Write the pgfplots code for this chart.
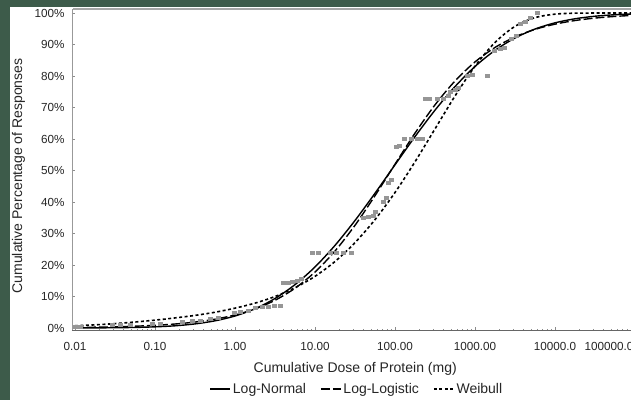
\documentclass[border=0pt]{standalone}
\usepackage{fontspec}
\setmainfont{Liberation Sans}
\usepackage{pgfplots}
\pgfplotsset{compat=1.18}
\definecolor{bggreen}{RGB}{61,91,74}
\definecolor{ptgray}{RGB}{150,150,150}
\begin{document}
\begin{tikzpicture}
\useasboundingbox (0pt,0pt) rectangle (631pt,400pt);
\fill[bggreen] (0pt,0pt) rectangle (631pt,400pt);
\fill[white] (10pt,0pt) rectangle (631pt,393pt);
\clip (0pt,0pt) rectangle (631pt,400pt);
\begin{axis}[
  at={(72pt,70pt)}, anchor=south west, scale only axis,
  width=563pt, height=321pt,
  xmode=log, xmin=0.009173, xmax=100000, ymin=-0.635, ymax=101.27,
  axis x line*=bottom, axis y line*=left,
  x axis line style={black!60, line width=0.8pt},
  y axis line style={black!40, line width=0.6pt},
  xtick={0.01,0.1,1,10,100,1000,10000},
  xticklabels={0.01,0.10,1.00,10.00,100.00,1000.00,10000.0},
  extra x ticks={100000}, extra x tick labels={100000.0},
  extra x tick style={xticklabel style={anchor=north east, xshift=2pt}},
  minor xtick={0.02,0.03,0.04,0.05,0.06,0.07,0.08,0.09,
    0.2,0.3,0.4,0.5,0.6,0.7,0.8,0.9,2,3,4,5,6,7,8,9,
    20,30,40,50,60,70,80,90,200,300,400,500,600,700,800,900,
    2000,3000,4000,5000,6000,7000,8000,9000,
    20000,30000,40000,50000,60000,70000,80000,90000},
  ytick={0,10,20,30,40,50,60,70,80,90,100},
  yticklabels={0\%,10\%,20\%,30\%,40\%,50\%,60\%,70\%,80\%,90\%,100\%},
  minor y tick num=4,
  tick align=inside,
  major tick length=3pt, minor tick length=1.5pt,
  tick style={black!45, line width=0.6pt},
  ticklabel style={font=\fontsize{11.7}{13}\selectfont, text=black!85},
  xticklabel style={yshift=-9pt},
  yticklabel style={xshift=-4pt},
  xlabel={Cumulative Dose of Protein (mg)},
  xlabel style={at={(axis description cs:0.503,-0.1215)}, anchor=center,
    font=\fontsize{14}{16}\selectfont, text=black!85},
  ylabel={Cumulative Percentage of Responses},
  ylabel style={at={(axis description cs:-0.095,0.48)}, anchor=center,
    font=\fontsize{14}{16}\selectfont, text=black!85},
  legend columns=3,
  legend style={at={(axis description cs:0.506,-0.1838)}, anchor=center,
    draw=none, fill=none, inner sep=0pt,
    font=\fontsize{14}{16}\selectfont, text=black!85,
    /tikz/every even column/.append style={column sep=12pt}},
  legend image code/.code={\draw[#1] (0pt,0pt) -- (20pt,0pt);},
]
\addplot[only marks, mark=square*, mark size=1.5pt, color=ptgray,
  mark options={xscale=1.3, draw=none, fill=ptgray}, forget plot] coordinates {
(0.01,0.48) (0.01155,0.48) (0.0290,0.95) (0.0365,0.95) (0.0487,0.95)
(0.0917,1.27) (0.1155,1.27) (0.2175,2.06) (0.290,2.22) (0.365,2.38)
(0.487,2.86) (0.613,3.17) (0.972,4.76) (1.155,5.08) (1.454,5.40)
(1.778,6.35) (2.175,6.67) (2.585,6.83) (3.073,6.98) (3.652,6.98)
(3.981,14.29) (4.597,14.29) (5.158,14.60) (5.957,14.92) (6.683,15.56)
(9.173,24.03) (10.90,24.03) (15.40,24.03) (18.30,24.03) (22.39,24.03) (28.18,24.03)
(39.81,34.92) (45.97,35.24) (53.09,35.56) (56.23,36.83) (70.79,40.00) (77.18,41.27)
(81.75,46.03) (89.13,46.98) (102.9,57.46) (112.2,57.78)
(129.6,60.16) (158.5,60.16) (188.4,60.16) (217.6,60.16)
(237.1,72.70) (266.1,72.70) (335.0,72.70) (398.1,72.70) (459.7,73.65)
(487.0,75.08) (562.3,75.56) (613.2,76.19) (794.3,80.00) (917.3,80.32) (1412.5,80.00)
(1728,87.94) (2053,88.57) (2304,88.89) (2818,91.75) (3255,92.70)
(3652,96.51) (4217,97.14) (4870,98.41) (5957,100.0)
};
\addplot[black, line width=1.4pt, smooth] coordinates {
(0.01,0.016) (0.017783,0.04) (0.031623,0.09) (0.056234,0.18) (0.1,0.37)
(0.17783,0.70) (0.31623,1.30) (0.56234,2.28) (1,3.81) (1.7783,6.11)
(3.1623,9.37) (5.6234,13.77) (10,19.38) (17.783,26.23) (31.623,34.13)
(56.234,42.78) (100,51.81) (177.83,60.75) (316.23,69.15) (562.34,76.64)
(1000,83.02) (1778.3,88.14) (3162.3,92.06) (5623.4,94.91) (10000,96.88)
(17783,98.17) (31623,98.98) (56234,99.45) (100000,99.72)
};
\addlegendentry{Log-Normal}
\addplot[black, line width=1.4pt, smooth, dash pattern=on 9pt off 3pt] coordinates {
(0.01,0.17) (0.017783,0.26) (0.031623,0.38) (0.056234,0.57) (0.1,0.85)
(0.17783,1.27) (0.31623,1.89) (0.56234,2.80) (1,4.13) (1.7783,6.05)
(3.1623,8.80) (5.6234,12.62) (10,17.77) (17.783,24.43) (31.623,32.60)
(56.234,42.00) (100,52.01) (177.83,61.87) (316.23,70.83) (562.34,78.42)
(1000,84.47) (1778.3,89.06) (3162.3,92.41) (5623.4,94.80) (10000,96.46)
(17783,97.61) (31623,98.39) (56234,98.92) (100000,99.28)
};
\addlegendentry{Log-Logistic}
\addplot[black, line width=1.6pt, smooth, dash pattern=on 3pt off 2.5pt] coordinates {
(0.01,0.70) (0.017783,1.00) (0.031623,1.40) (0.056234,1.90) (0.1,2.50)
(0.17783,3.20) (0.31623,4.00) (0.56234,5.00) (1,6.30) (1.7783,7.90)
(3.1623,10.00) (5.6234,12.80) (10,16.40) (17.783,21.11) (31.623,27.11)
(56.234,34.40) (100,43.01) (177.83,52.76) (316.23,63.21) (562.34,73.65)
(1000,83.10) (1778.3,90.66) (3162.3,95.77) (5623.4,98.53) (10000,99.64)
(17783,99.94) (31623,99.99) (56234,100) (100000,100)
};
\addlegendentry{Weibull}
\end{axis}
\draw[black!35, line width=1.5pt] (73pt,391pt) -- (631pt,391pt);
\end{tikzpicture}
\end{document}
